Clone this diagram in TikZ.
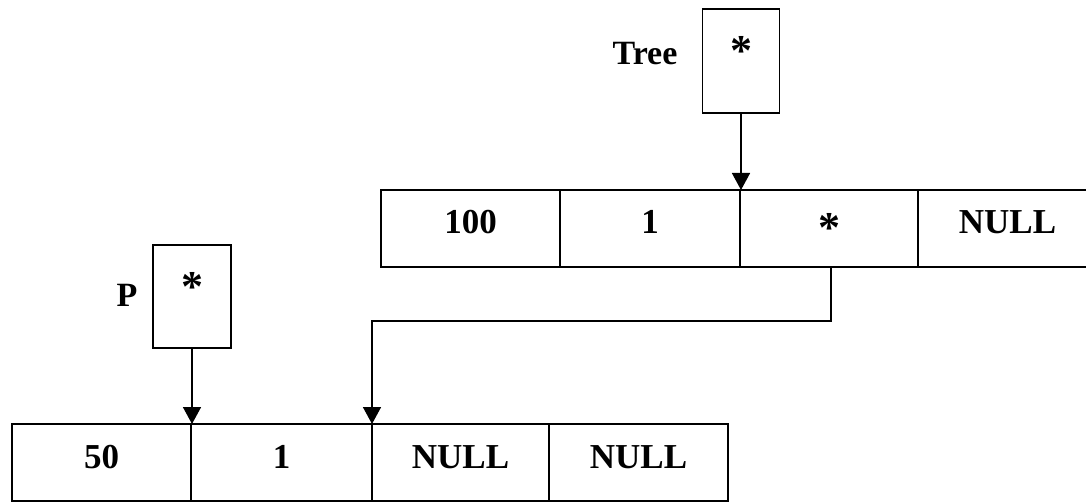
\documentclass[tikz,border=0pt]{standalone}
\usepackage{fontspec}
\setmainfont{Liberation Serif}
\usetikzlibrary{arrows.meta}
\begin{document}
\begin{tikzpicture}[x=1pt,y=-1pt,
  cell/.style={draw,line width=1.6pt,minimum height=77pt,inner sep=0pt,outer sep=0pt,
    font=\fontsize{35}{38}\selectfont\bfseries,text height=11pt,text depth=0pt},
  starcell/.style={cell,font=\fontsize{44}{46}\selectfont\bfseries,text height=29pt},
  ptr/.style={draw,line width=1.6pt,inner sep=0pt,outer sep=0pt,
    font=\fontsize{44}{46}\selectfont\bfseries,text height=10pt,text depth=0pt},
  lbl/.style={font=\fontsize{34}{36}\selectfont\bfseries,inner sep=0pt,anchor=base},
  arr/.style={line width=1.6pt,-{Triangle[width=18pt,length=17pt]}}]
\useasboundingbox (0,0) rectangle (1086,502);
\fill[white] (0,0) rectangle (1086,502);
\clip (0,0) rectangle (1086,502);
% pointer boxes
\node[ptr,minimum width=77pt,minimum height=104pt] (tree) at (741,61) {*};
\node[lbl] (treelbl) at (645,65) {Tree};
\node[ptr,minimum width=78pt,minimum height=103pt] (p) at (192,296.5) {*};
\node[lbl] (plbl) at (127,307) {P};
% top row
\node[cell,minimum width=179pt] (t1) at (470.5,228.5) {100};
\node[cell,minimum width=179pt] (t2) at (650,228.5) {1};
\node[starcell,minimum width=178pt] (t3) at (829,228.5) {*};
\node[cell,minimum width=179pt] (t4) at (1007.5,228.5) {NULL};
% bottom row
\node[cell,minimum width=179pt] (b1) at (101.5,462.5) {50};
\node[cell,minimum width=181pt] (b2) at (281.5,462.5) {1};
\node[cell,minimum width=177pt] (b3) at (460.5,462.5) {NULL};
\node[cell,minimum width=179pt] (b4) at (638.5,462.5) {NULL};
% connectors
\draw[arr] (tree.south) -- (tree.south |- t3.north);
\draw[arr] (p.south) -- (p.south |- b2.north);
\coordinate (mid) at (600,321);
\draw[arr] ([xshift=2pt]t3.south) |- (mid) -| (b3.north west);
\end{tikzpicture}
\end{document}
